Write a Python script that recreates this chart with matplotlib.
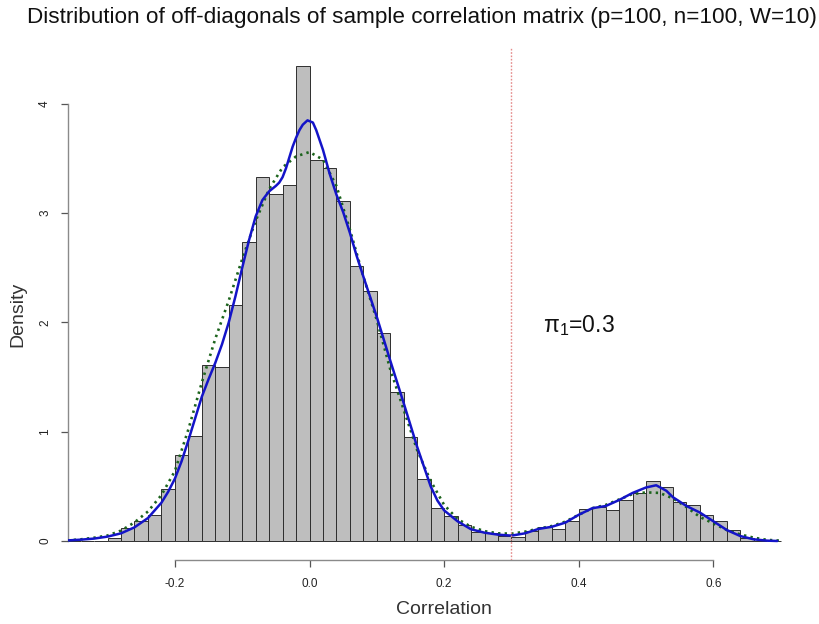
import matplotlib
matplotlib.use("Agg")
import matplotlib.pyplot as plt
import numpy as np

plt.rcParams['font.family'] = ['Liberation Sans', 'DejaVu Sans']
plt.rcParams['mathtext.fontset'] = 'custom'
plt.rcParams['mathtext.rm'] = 'Liberation Sans'
plt.rcParams['mathtext.it'] = 'Liberation Sans'

# Histogram bins (left edges) and densities
bin_width = 0.02
bin_lefts = [round(-0.36 + i * 0.02, 2) for i in range(53)]
bar_heights = [0, 0, 0, 0.025, 0.12, 0.18, 0.24, 0.48, 0.79, 0.96,
               1.61, 1.59, 2.16, 2.74, 3.33, 3.18, 3.26, 4.35,
               3.49, 3.41, 3.11, 2.52, 2.29, 1.90, 1.36, 0.955, 0.57, 0.305,
               0.23, 0.147, 0.085, 0.07, 0.046, 0.034, 0.09, 0.13, 0.11, 0.18,
               0.29, 0.31, 0.28, 0.375, 0.44, 0.55, 0.49, 0.36, 0.33, 0.235,
               0.18, 0.10, 0.03, 0, 0]

# Kernel density estimate (blue, solid)
kde_x = [-0.36, -0.34, -0.32, -0.30, -0.28, -0.26, -0.24, -0.22, -0.21, -0.20,
         -0.19, -0.18, -0.17, -0.16, -0.15, -0.14, -0.13, -0.12, -0.11, -0.10,
         -0.09, -0.08, -0.07, -0.06, -0.05, -0.045, -0.04, -0.035, -0.03, -0.025,
         -0.02, -0.015, -0.01, -0.003, 0.005, 0.01, 0.02, 0.03, 0.04, 0.05,
         0.06, 0.07, 0.08, 0.10, 0.12, 0.14, 0.16, 0.18, 0.19, 0.20,
         0.22, 0.24, 0.26, 0.28, 0.30, 0.32, 0.34, 0.36, 0.38, 0.40,
         0.42, 0.44, 0.46, 0.48, 0.50, 0.515, 0.53, 0.54, 0.56, 0.58,
         0.60, 0.62, 0.64, 0.66, 0.68, 0.695]
kde_y = [0.005, 0.012, 0.022, 0.04, 0.07, 0.125, 0.21, 0.35, 0.45, 0.57,
         0.73, 0.92, 1.12, 1.32, 1.48, 1.63, 1.80, 2.00, 2.24, 2.50,
         2.75, 2.97, 3.12, 3.20, 3.25, 3.28, 3.33, 3.41, 3.51, 3.61,
         3.69, 3.76, 3.81, 3.85, 3.83, 3.76, 3.58, 3.36, 3.17, 3.01,
         2.82, 2.61, 2.42, 2.05, 1.65, 1.26, 0.86, 0.50, 0.37, 0.28,
         0.18, 0.107, 0.076, 0.058, 0.049, 0.07, 0.11, 0.13, 0.168, 0.24,
         0.30, 0.32, 0.375, 0.44, 0.49, 0.51, 0.46, 0.40, 0.32, 0.26,
         0.18, 0.10, 0.045, 0.015, 0.003, 0.0]

# Fitted mixture density (green, dotted)
fit_x = [-0.36, -0.34, -0.32, -0.30, -0.28, -0.26, -0.24, -0.22, -0.20, -0.18,
         -0.16, -0.14, -0.12, -0.10, -0.08, -0.06, -0.04, -0.02, 0.00, 0.02,
         0.04, 0.06, 0.08, 0.10, 0.12, 0.14, 0.16, 0.18, 0.20, 0.22,
         0.24, 0.26, 0.28, 0.30, 0.32, 0.34, 0.36, 0.38, 0.40, 0.42,
         0.44, 0.46, 0.48, 0.50, 0.52, 0.54, 0.56, 0.58, 0.60, 0.62,
         0.64, 0.66, 0.68, 0.70]
fit_y = [0.005, 0.015, 0.03, 0.05, 0.095, 0.17, 0.27, 0.42, 0.64, 1.02,
         1.45, 1.85, 2.20, 2.58, 2.93, 3.22, 3.42, 3.52, 3.56, 3.49,
         3.25, 2.85, 2.42, 2.02, 1.57, 1.20, 0.83, 0.55, 0.33, 0.20,
         0.13, 0.09, 0.07, 0.067, 0.085, 0.113, 0.137, 0.177, 0.24, 0.30,
         0.33, 0.38, 0.43, 0.445, 0.44, 0.39, 0.31, 0.22, 0.16, 0.10,
         0.06, 0.03, 0.01, 0.003]

threshold = 0.3
x_ticks = [-0.2, 0.0, 0.2, 0.4, 0.6]
x_tick_labels = ["-0.2", "0.0", "0.2", "0.4", "0.6"]
y_ticks = [0, 1, 2, 3, 4]
y_tick_labels = ["0", "1", "2", "3", "4"]

W, H = 819, 624
fig = plt.figure(figsize=(W / 100, H / 100), dpi=100)
left_px, right_px, top_px, bottom_px = 67.7, 780.2, 46.7, 560.0
ax = fig.add_axes([left_px / W, (H - bottom_px) / H,
                   (right_px - left_px) / W, (bottom_px - top_px) / H])
ax.set_xlim(-0.3592, 0.6992)
ax.set_ylim(-0.174, 4.524)

ax.bar(bin_lefts, bar_heights, width=bin_width, align='edge',
       color='#bebebe', edgecolor='#2e2e2e', linewidth=0.7, clip_on=False, zorder=2)
ax.plot(kde_x, kde_y, color='#1414c8', lw=1.8, zorder=4, solid_capstyle='round',
        solid_joinstyle='round')
ax.plot(fit_x, fit_y, color='#1c641c', lw=1.9, linestyle=(0, (0.9, 1.6)),
        zorder=3, dash_capstyle='butt')
ax.axvline(threshold, color='#e58a8a', lw=1.0, linestyle=(0, (1.2, 1.2)), zorder=5)

ax.text(0.40, 1.97, r'$\mathregular{π_1}$=0.3', fontsize=16.5, ha='center',
        va='center', color='#111111')

for s in ['top', 'right']:
    ax.spines[s].set_visible(False)
ax.spines['left'].set_bounds(0, 4)
ax.spines['bottom'].set_bounds(-0.2, 0.6)
for s in ['left', 'bottom']:
    ax.spines[s].set_color('#8a8a8a')
    ax.spines[s].set_linewidth(1.0)

ax.set_xticks(x_ticks)
ax.set_xticklabels(x_tick_labels)
ax.set_yticks(y_ticks)
ax.set_yticklabels(y_tick_labels, rotation=90, va='center')
ax.tick_params(axis='both', colors='#555555', labelcolor='#222222',
               length=5, width=0.9, labelsize=8.5)
ax.tick_params(axis='x', pad=8)
ax.tick_params(axis='y', pad=7)

fig.text(422 / W, 1 - 18 / H,
         "Distribution of off-diagonals of sample correlation matrix (p=100, n=100, W=10)",
         ha='center', va='center', fontsize=16.2, color='#111111')
fig.text(444 / W, 1 - 609 / H, "Correlation", ha='center', va='center',
         fontsize=14, color='#333333')
fig.text(18 / W, 1 - 314 / H, "Density", ha='center', va='center',
         fontsize=14, color='#333333', rotation=90)

fig.savefig("out.png", dpi=100)
